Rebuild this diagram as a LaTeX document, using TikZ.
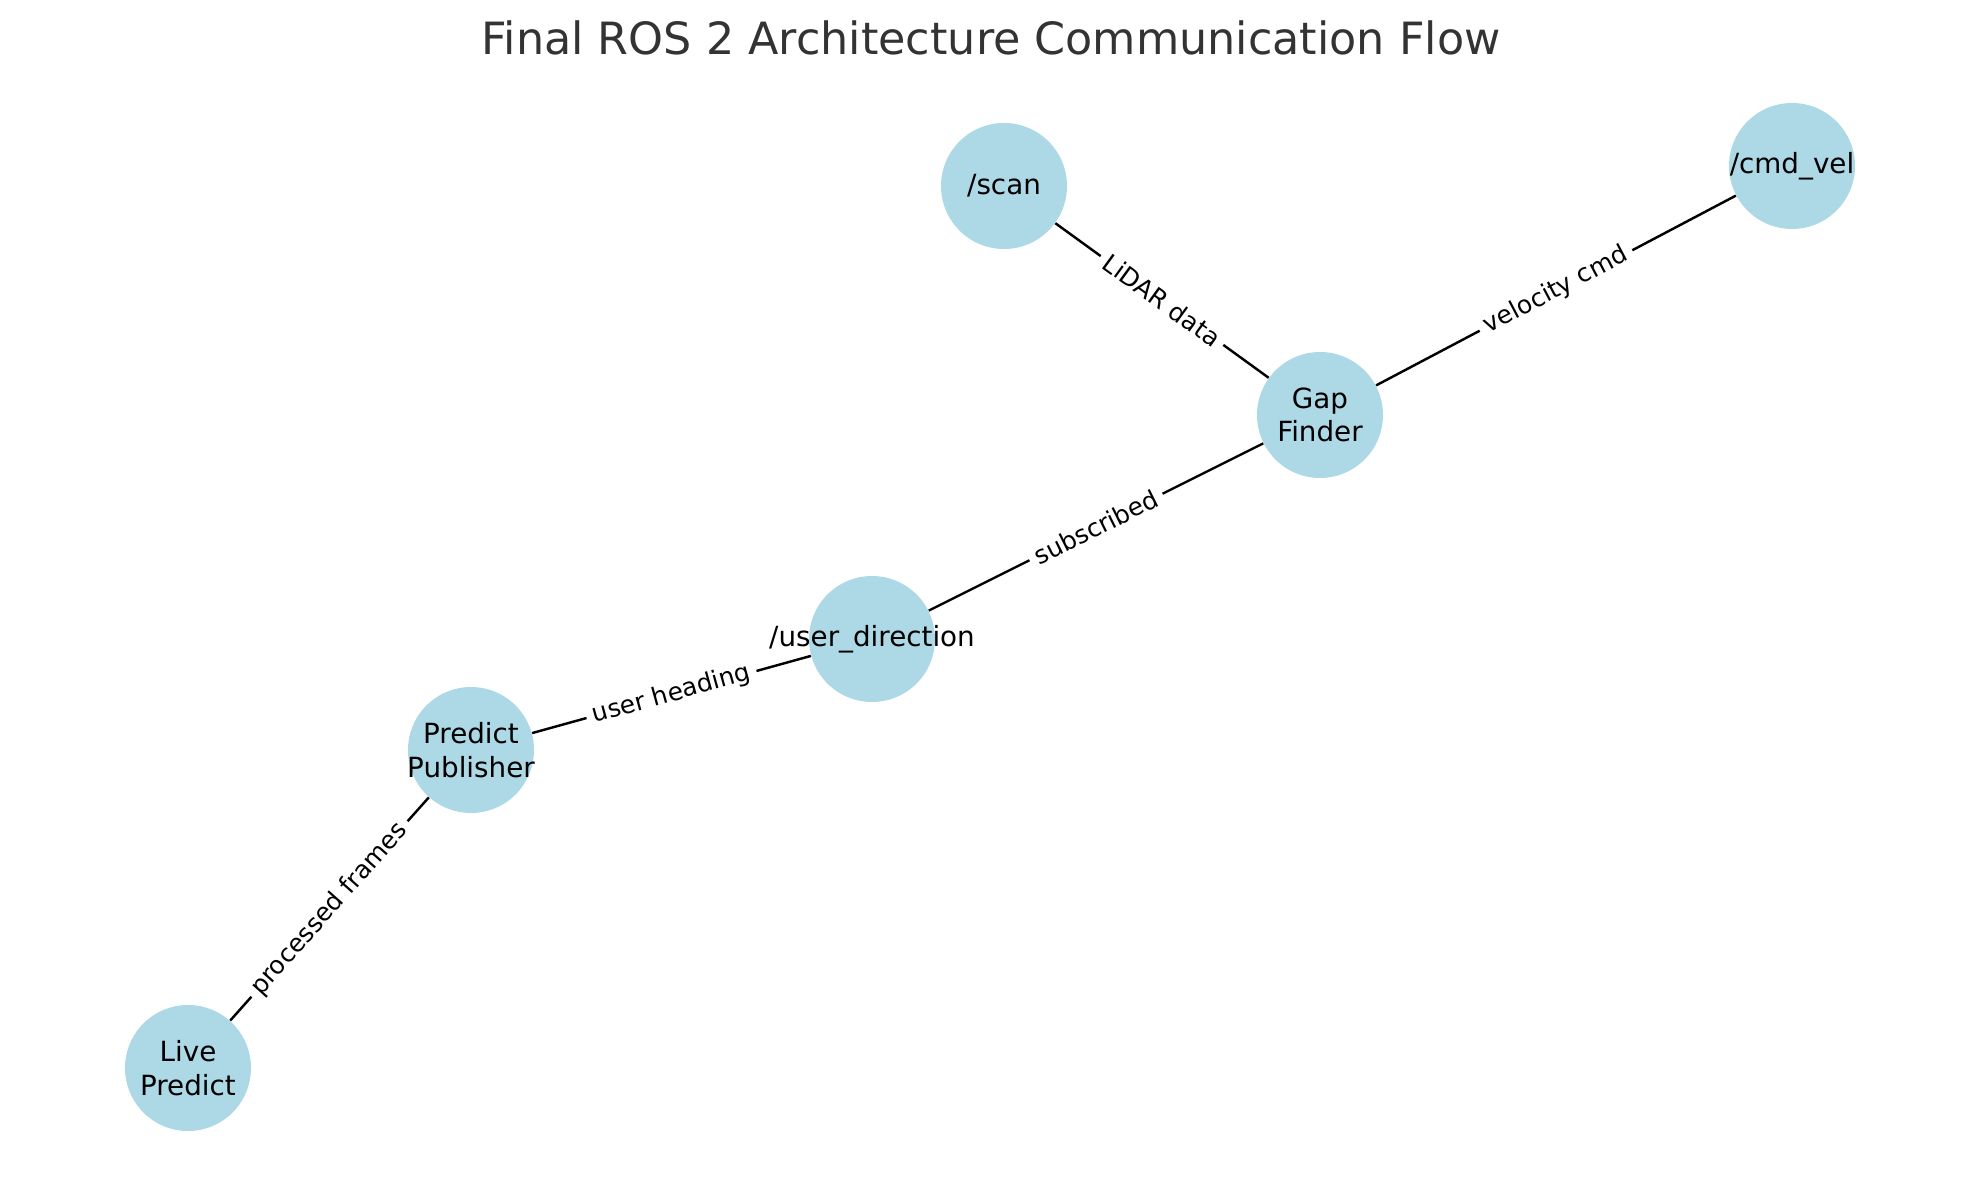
\documentclass[tikz,border=0pt]{standalone}
\usepackage{fontspec}
\setmainfont{DejaVu Sans}
\definecolor{nodeblue}{HTML}{ADD8E6}
\definecolor{titlegrey}{HTML}{333333}
\begin{document}
\begin{tikzpicture}[x=0.45pt,y=-0.45pt,
  ros/.style={circle,fill=nodeblue,minimum size=56.7pt,inner sep=0pt},
  ntext/.style={font=\fontsize{12.5}{15}\selectfont,align=center,text=black},
  elabel/.style={sloped,midway,fill=white,inner sep=3pt,rounded corners=2pt,font=\fontsize{11.2}{13}\selectfont},
  conn/.style={draw=black,line width=1.1pt}]
\useasboundingbox (0,0) rectangle (1979,1180);
\node[anchor=base,text=titlegrey,font=\fontsize{20}{24}\selectfont] (title) at (991,55) {Final ROS 2 Architecture Communication Flow};
\node[ros,label={[ntext]center:{/scan}}] (scan) at (1004,186) {};
\node[ros,label={[ntext]center:{/cmd\_vel}}] (cmd) at (1792,166) {};
\node[ros,label={[ntext]center:{Gap\\Finder}}] (gap) at (1320,415) {};
\node[ros,label={[ntext]center:{/user\_direction}}] (user) at (872,639) {};
\node[ros,label={[ntext]center:{Predict\\Publisher}}] (pred) at (471,750) {};
\node[ros,label={[ntext]center:{Live\\Predict}}] (live) at (188,1068) {};
\draw[conn] (scan) -- node[elabel]{LiDAR data} (gap);
\draw[conn] (gap) -- node[elabel]{velocity cmd} (cmd);
\draw[conn] (gap) -- node[elabel]{subscribed} (user);
\draw[conn] (user) -- node[elabel]{user heading} (pred);
\draw[conn] (pred) -- node[elabel]{processed frames} (live);
\end{tikzpicture}
\end{document}
